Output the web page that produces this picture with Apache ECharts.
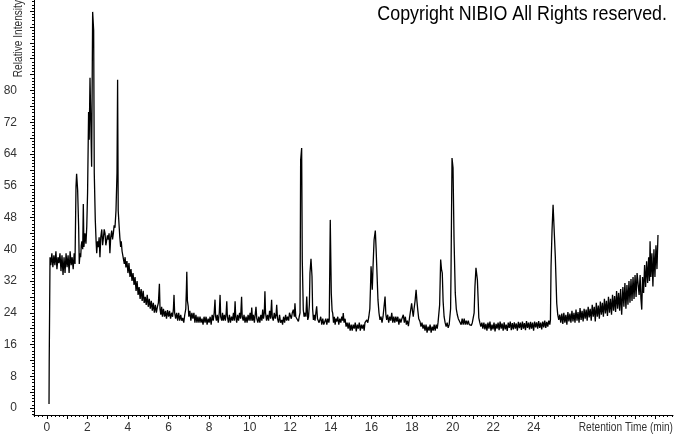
<!DOCTYPE html>
<html><head><meta charset="utf-8">
<script src="https://cdn.jsdelivr.net/npm/echarts@6/dist/echarts.min.js"></script>
<style>html,body{margin:0;padding:0;background:#fff}#c{width:674px;height:434px}</style>
</head><body><div id="c"></div>
<script>
// ---- tick labels ----
const xTickLabels = [0,2,4,6,8,10,12,14,16,18,20,22,24];
const yTickLabels = [0,8,16,24,32,40,48,56,64,72,80];
const titleText = 'Copyright NIBIO All Rights reserved.';
const xName = 'Retention Time (min)';
const yName = 'Relative Intensity';

// ---- chromatogram [time (min), relative intensity] ----
const segStart = [[0.11,1],[0.12,12],[0.15,12.5],[0.16,38],[0.2,36],[0.25,39],[0.3,35.5],[0.35,38.5],[0.4,36],[0.45,39.5],[0.5,35],[0.55,38],[0.6,36.5],[0.65,39],[0.7,34.5],[0.75,38.5],[0.8,33.5],[0.85,38],[0.9,34],[0.95,39],[1.0,35.5],[1.05,38.5],[1.1,34],[1.15,39.5],[1.2,36],[1.25,38],[1.3,35],[1.35,39],[1.39,36.3]];
const segEarly = [[1.44,55.8],[1.47,59],[1.52,55],[1.57,45.7],[1.6,36.3],[1.64,39],[1.67,38],[1.7,41],[1.73,42],[1.77,40],[1.8,51.4],[1.83,40.6],[1.88,44],[1.93,41.4],[1.97,45.7],[2.01,54.2],[2.06,74.6],[2.09,67.6],[2.13,83.2],[2.16,82.7],[2.21,60.8],[2.26,99.8],[2.31,95.2],[2.34,59.2],[2.39,47.4],[2.43,42],[2.46,39],[2.5,42],[2.54,40.5],[2.58,43],[2.62,38],[2.66,43],[2.71,45],[2.75,41],[2.78,42.4],[2.83,45],[2.87,44],[2.91,41],[2.95,40.6],[2.99,43.5],[3.03,42.4],[3.07,44],[3.11,39],[3.15,43],[3.2,44.7],[3.24,42.5],[3.28,44],[3.32,46],[3.36,45.4],[3.41,49.7],[3.46,59.2],[3.49,82.7],[3.52,49.7],[3.57,45.4],[3.6,43],[3.64,40.6],[3.67,42],[3.71,39.5],[3.74,39],[3.78,40],[3.82,36.3],[3.86,38],[3.9,35.4]];
const segDecay = [[3.95,37],[4.0,34],[4.05,36.5],[4.1,33],[4.15,35],[4.2,32],[4.25,34],[4.3,31],[4.35,33],[4.4,29.5],[4.45,32],[4.5,28.5],[4.55,30.5],[4.6,27.5],[4.65,30],[4.7,27],[4.75,29.5],[4.8,26.5],[4.85,28],[4.9,26],[4.95,28.5],[5.0,25.5],[5.05,27.5],[5.1,25],[5.15,27],[5.2,24.5],[5.25,26.5],[5.3,24],[5.35,26],[5.4,24],[5.45,25.5],[5.5,26.5],[5.55,31.3],[5.58,25],[5.62,23.5],[5.66,25.5],[5.7,23],[5.75,25],[5.8,23],[5.85,24.5],[5.9,22.5],[5.95,24.7],[6.0,23],[6.05,24.5],[6.1,22.5],[6.15,24],[6.2,23],[6.24,25],[6.27,28.5],[6.3,24],[6.35,22.5],[6.4,24],[6.45,22],[6.5,24],[6.55,22],[6.6,23.5],[6.65,22],[6.7,22.7],[6.75,21.5],[6.8,23.5],[6.85,25],[6.88,30],[6.9,34.3],[6.93,27],[6.97,25.6],[7.0,23],[7.05,24.5],[7.1,22],[7.15,24],[7.2,22.5],[7.25,24],[7.3,21.5],[7.35,23.5],[7.4,21.5],[7.45,23]];
const segMid = [[7.5,21.5],[7.55,23],[7.6,21.5],[7.65,22.5],[7.7,21],[7.75,23],[7.8,21.5],[7.85,23],[7.9,21],[7.95,22.5],[8.0,21.5],[8.05,23],[8.1,21],[8.15,23.5],[8.2,22],[8.25,24],[8.29,27.3],[8.32,23],[8.36,22],[8.4,23.5],[8.45,21.5],[8.5,24],[8.54,28.5],[8.57,23],[8.62,22],[8.66,24],[8.7,22],[8.75,23.5],[8.8,22],[8.84,24],[8.87,26.9],[8.9,23],[8.95,21.5],[9.0,23.5],[9.05,21.5],[9.1,23],[9.15,22],[9.2,24],[9.24,22],[9.28,26.9],[9.31,23],[9.36,21.5],[9.4,23.5],[9.45,22],[9.5,24],[9.55,22.5],[9.6,28],[9.63,23],[9.68,22],[9.72,23.5],[9.77,21.5],[9.82,23],[9.87,21.5],[9.92,23.5],[9.97,22],[10.02,24],[10.06,22],[10.1,25.3],[10.14,22],[10.18,23.5],[10.23,21.5],[10.28,24],[10.31,25.5],[10.35,22.5],[10.4,21.5],[10.45,23],[10.5,21.5],[10.55,23.5],[10.6,22],[10.64,24.8],[10.68,22.5],[10.72,24],[10.75,29.4],[10.78,24],[10.83,22],[10.88,23.5],[10.93,22],[10.98,24.5],[11.03,22.5],[11.08,27.3],[11.11,23],[11.16,22],[11.21,24],[11.26,22.5],[11.3,23.5],[11.33,26],[11.37,22.5],[11.42,21.5],[11.47,23.5],[11.52,21.5],[11.58,22.2],[11.62,21],[11.67,23],[11.72,21.5],[11.77,23.5],[11.82,22],[11.87,23],[11.92,22],[11.96,24],[12.0,23.9],[12.05,22.5],[12.1,24],[12.15,24.8],[12.2,23],[12.23,26.4],[12.27,23],[12.32,22.5],[12.36,23.5],[12.4,21.8],[12.44,23],[12.48,24]];
const segPeaks2 = [[12.51,62.5],[12.56,65.5],[12.59,37.4],[12.64,24.8],[12.68,23],[12.73,24],[12.77,23],[12.81,28.1],[12.86,22.2],[12.9,23],[12.94,26],[12.97,34],[13.02,37.6],[13.07,33.2],[13.1,25],[13.14,22.2],[13.18,23.5],[13.22,22],[13.26,24],[13.3,25.6],[13.34,22.5],[13.38,23],[13.42,21.5],[13.46,21.8],[13.5,23],[13.55,21],[13.6,22.5],[13.65,21],[13.71,21.4],[13.75,22.5],[13.8,21],[13.85,22.5],[13.9,21.5],[13.92,22.2],[13.97,47.4],[14.02,29],[14.06,24.5],[14.09,23.9],[14.13,21.5],[14.17,23],[14.21,21],[14.25,22.5],[14.29,21.8],[14.34,23],[14.39,21],[14.44,22.5],[14.49,21.5],[14.54,23],[14.58,22],[14.61,23.9],[14.65,21.5],[14.7,22.5],[14.75,20.5],[14.8,21.5],[14.85,20],[14.9,21.5],[14.95,19.5],[15.0,21],[15.05,19.5],[15.1,21],[15.15,20],[15.2,21.5],[15.25,19.3],[15.3,21],[15.35,20],[15.4,21.5],[15.45,19.5],[15.5,21],[15.55,20],[15.6,21],[15.64,19.5],[15.68,21.5],[15.72,21],[15.77,22.2],[15.82,21.5],[15.87,23],[15.92,25],[15.95,30],[15.98,35.7],[16.01,33],[16.04,29.8],[16.08,36],[16.13,42.4],[16.19,44.7],[16.23,40],[16.26,35.7],[16.32,27.3],[16.37,24],[16.42,22.2],[16.47,23]];
const segPeaks3 = [[16.52,21.5],[16.57,23],[16.62,22.5],[16.67,28.1],[16.71,23.5],[16.75,22.2],[16.8,23.5],[16.85,21.5],[16.9,23],[16.95,22],[17.0,24],[17.05,21.5],[17.1,23],[17.15,21.5],[17.2,23],[17.25,21.8],[17.3,23],[17.35,21],[17.4,22.5],[17.45,21.5],[17.5,22.5],[17.57,23.5],[17.62,21.5],[17.67,23],[17.72,21],[17.77,22],[17.82,20.6],[17.87,22.5],[17.92,23],[17.98,26.4],[18.02,24.5],[18.06,23],[18.1,25],[18.15,27],[18.2,29.8],[18.24,27],[18.28,24.8],[18.33,22.5],[18.39,21.8],[18.44,20.5],[18.49,21.5],[18.54,20],[18.59,21],[18.64,19.5],[18.69,21],[18.74,19],[18.79,20.5],[18.84,19.5],[18.89,21],[18.94,19],[18.99,20.5],[19.04,19.5],[19.09,21],[19.14,19.5],[19.19,21],[19.24,20],[19.28,21.5],[19.32,22],[19.36,26],[19.41,37.4],[19.45,35],[19.49,34],[19.53,27],[19.58,23],[19.63,21.5],[19.68,20.5],[19.73,21.5],[19.78,20.2],[19.83,21],[19.87,21.5],[19.9,25],[19.92,34],[19.97,63],[20.02,60.5],[20.07,42.4],[20.13,29],[20.18,25],[20.23,23.5],[20.28,22.5],[20.33,23],[20.37,22.2],[20.42,21],[20.47,22.5],[20.52,21],[20.57,22.5],[20.62,21],[20.67,22],[20.72,21],[20.77,22],[20.82,21],[20.87,21.5],[20.92,20.8],[20.97,21.5],[21.02,21.5],[21.06,24],[21.1,30.6],[21.15,35.3],[21.22,32.3],[21.26,27],[21.29,22.7],[21.34,21.5],[21.39,20.5],[21.44,21.5],[21.49,20]];
const segFlat = [[21.54,21.5],[21.59,19.8],[21.64,21.2],[21.69,19.5],[21.74,21.5],[21.79,20],[21.84,21.8],[21.89,19.5],[21.94,21],[21.99,19.8],[22.04,21.5],[22.09,19.3],[22.14,21.2],[22.19,20],[22.24,21.5],[22.29,19.6],[22.34,21.8],[22.39,20],[22.44,21.3],[22.49,19.5],[22.54,21.6],[22.59,19.8],[22.64,21],[22.69,19.4],[22.74,21.5],[22.79,20.2],[22.84,21.8],[22.89,19.6],[22.94,21.4],[22.99,19.8],[23.04,21.6],[23.09,20],[23.14,21.3],[23.19,19.5],[23.24,21.7],[23.29,20.1],[23.34,21.5],[23.39,19.7],[23.44,21.8],[23.49,20],[23.54,21.4],[23.59,19.6],[23.64,21.9],[23.69,20.2],[23.74,21.5],[23.79,19.8],[23.84,21.7],[23.89,20],[23.94,21.5],[23.99,19.5],[24.04,21.8],[24.09,20.3],[24.14,21.6],[24.19,20],[24.24,21.9],[24.29,20.2],[24.34,21.5],[24.39,19.8],[24.44,21.8],[24.49,20.3],[24.54,22],[24.59,20.2],[24.64,21.7],[24.69,20.5],[24.74,22],[24.79,21],[24.82,22.2]];
const segTail = [[24.85,35.7],[24.9,44.9],[24.95,51.2],[25.01,50.8],[25.06,38.2],[25.13,26.4],[25.18,23.5],[25.23,22.2],[25.28,23.5],[25.33,21.5],[25.38,23.8],[25.43,21.2],[25.48,24],[25.53,21.5],[25.58,23.5],[25.63,21],[25.68,24.2],[25.73,21.8],[25.78,23.8],[25.83,21.5],[25.88,24.5],[25.93,21.8],[25.98,24],[26.03,21.5],[26.08,24.8],[26.13,22],[26.18,24.2],[26.23,21.5],[26.28,25.2],[26.33,22.2],[26.38,24.5],[26.43,21.8],[26.48,25],[26.53,22.5],[26.58,24.8],[26.63,22],[26.68,25.5],[26.73,22.8],[26.78,25],[26.83,22],[26.88,26],[26.93,23],[26.98,25.5],[27.03,21.8],[27.08,26.5],[27.13,23],[27.18,25.8],[27.23,22.5],[27.28,26.8],[27.33,23.5],[27.38,26.5],[27.43,23],[27.48,27.5],[27.53,23.8],[27.58,27],[27.63,23.2],[27.68,28],[27.73,24],[27.78,27.5],[27.83,23.5],[27.88,28.5],[27.93,24.5],[27.98,28.2],[28.03,24.2],[28.08,29.5],[28.13,25],[28.18,29],[28.23,24.5],[28.28,30],[28.33,23.5],[28.39,30.5],[28.44,25.5],[28.49,31.5],[28.54,25],[28.59,31],[28.64,26],[28.69,32],[28.74,26.5],[28.79,32.5],[28.84,27],[28.89,33],[28.94,27.5],[28.99,33.5],[29.04,28],[29.09,34],[29.14,34.4],[29.19,28.5],[29.24,33.5],[29.28,27.5],[29.32,24.8],[29.36,33],[29.41,29],[29.46,36],[29.51,30.5],[29.56,37],[29.61,31.5],[29.66,38],[29.7,32],[29.73,42],[29.77,33],[29.82,39],[29.87,30.6],[29.92,40],[29.97,33],[30.02,41],[30.07,35],[30.12,43.6]];

const chromData = [].concat(segStart, segEarly, segDecay, segMid, segPeaks2, segPeaks3, segFlat, segTail);

// ---- axis extents / tick positions ----
const X_MIN = -0.63, X_MAX = 30.86, Y_MIN = -1.76, Y_MAX = 102.8;
function steps(from, to, step){ const out=[]; for(let v=from; v<=to+1e-9; v+=step){ out.push(Math.round(v*1000)/1000); } return out; }
const xMajor = steps(0, 30, 1);
const xMinor = steps(-0.6, 30.8, 0.2);
const yMajor = steps(0, 100, 4);
const yMinor = steps(-1.6, 102.4, 0.8);

const labelFont = "'Liberation Sans Narrow','Liberation Sans',Arial,sans-serif";
const axisCol = '#000';

const chart = echarts.init(document.getElementById('c'), null, {renderer:'canvas'});
chart.setOption({
  animation:false,
  backgroundColor:'#fff',
  grid:{left:34, right:1, top:0, bottom:19, containLabel:false},
  xAxis:[
    {type:'value', min:X_MIN, max:X_MAX, position:'bottom', offset:0,
     axisLine:{show:true, onZero:false, lineStyle:{color:axisCol, width:1}},
     axisTick:{show:true, length:4, customValues:xMajor, lineStyle:{color:axisCol}},
     axisLabel:{show:true, customValues:xTickLabels, margin:7, fontSize:12, fontFamily:labelFont, color:'#333'},
     splitLine:{show:false}},
    {type:'value', min:X_MIN, max:X_MAX, position:'bottom', offset:0,
     axisLine:{show:false, onZero:false},
     axisTick:{show:true, length:2, customValues:xMinor, lineStyle:{color:axisCol}},
     axisLabel:{show:false}, splitLine:{show:false}}
  ],
  yAxis:[
    {type:'value', min:Y_MIN, max:Y_MAX, position:'left', offset:0,
     axisLine:{show:true, onZero:false, lineStyle:{color:axisCol, width:1}},
     axisTick:{show:true, length:4, customValues:yMajor, lineStyle:{color:axisCol}},
     axisLabel:{show:true, customValues:yTickLabels, margin:17, fontSize:12, fontFamily:labelFont, color:'#333'},
     splitLine:{show:false}},
    {type:'value', min:Y_MIN, max:Y_MAX, position:'left', offset:0,
     axisLine:{show:false, onZero:false},
     axisTick:{show:true, length:2, customValues:yMinor, lineStyle:{color:axisCol}},
     axisLabel:{show:false}, splitLine:{show:false}}
  ],
  graphic:[
    {type:'text', x:667, y:14, scaleX:0.85, silent:true,
     style:{text:titleText, fill:'#000', font:"21px 'Liberation Sans', Arial, sans-serif", textAlign:'right', textVerticalAlign:'middle'}},
    {type:'text', x:673, y:427, scaleX:0.78, silent:true,
     style:{text:xName, fill:'#333', font:"13px 'Liberation Sans', Arial, sans-serif", textAlign:'right', textVerticalAlign:'middle'}},
    {type:'text', x:18.5, y:0, rotation:Math.PI/2, scaleX:0.78, silent:true,
     style:{text:yName, fill:'#333', font:"13px 'Liberation Sans', Arial, sans-serif", textAlign:'right', textVerticalAlign:'middle'}}
  ],
  series:[{
    type:'line', xAxisIndex:0, yAxisIndex:0, data:chromData,
    showSymbol:false, symbol:'none', smooth:false,
    lineStyle:{color:'#000', width:1.3}, clip:true
  }]
});
</script>
</body></html>
